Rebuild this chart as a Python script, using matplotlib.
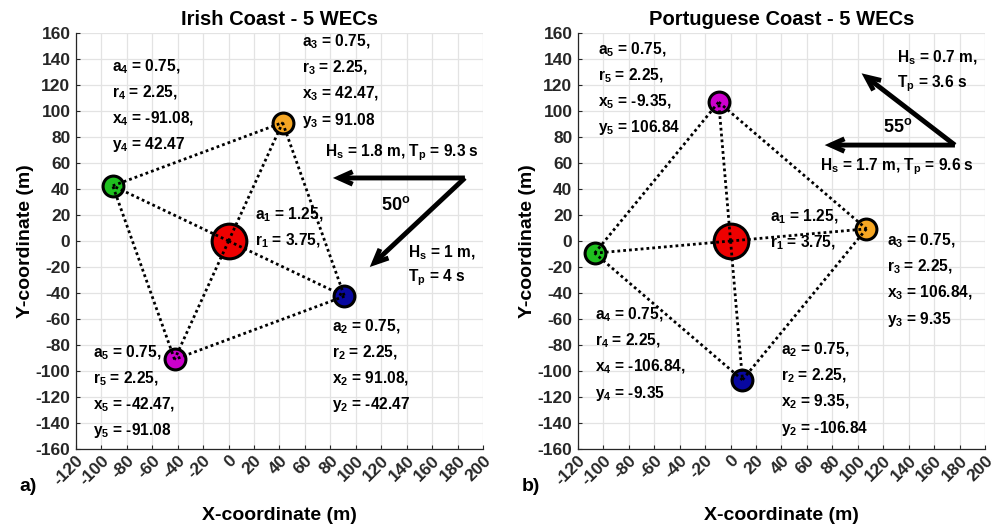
import matplotlib
matplotlib.use("Agg")
import matplotlib.pyplot as plt

plt.rcParams['font.family'] = ['Liberation Sans', 'DejaVu Sans']
plt.rcParams['font.weight'] = 'bold'
plt.rcParams['mathtext.fontset'] = 'custom'
plt.rcParams['mathtext.rm'] = 'Liberation Sans:bold'
plt.rcParams['mathtext.it'] = 'Liberation Sans:bold'
plt.rcParams['mathtext.bf'] = 'Liberation Sans:bold'

# ---------------- data ----------------
wec_ids = [1, 2, 3, 4, 5]
radius_a = [1.25, 0.75, 0.75, 0.75, 0.75]
radius_r = [3.75, 2.25, 2.25, 2.25, 2.25]
wec_colors = ['#ee0000', '#0808a0', '#f5a623', '#1fbf1f', '#cc00cc']

irish_x = [0.0, 91.08, 42.47, -91.08, -42.47]
irish_y = [0.0, -42.47, 91.08, 42.47, -91.08]
irish_ring = [4, 3, 2, 5]          # perimeter order (WEC ids)

port_x = [0.0, 9.35, 106.84, -106.84, -9.35]
port_y = [0.0, -106.84, 9.35, -9.35, 106.84]
port_ring = [5, 3, 2, 4]

irish_title = 'Irish Coast - 5 WECs'
port_title = 'Portuguese Coast - 5 WECs'

irish_wave1 = (1.8, 9.3)   # Hs, Tp
irish_wave2 = (1.0, 4.0)
irish_angle = 50
port_wave1 = (1.7, 9.6)
port_wave2 = (0.7, 3.6)
port_angle = 55

x_ticks = list(range(-120, 201, 20))
y_ticks = list(range(-160, 161, 20))

# ---------------- layout ----------------
fig = plt.figure(figsize=(9.97, 5.24), dpi=100)
ax_pos = [[0.0762, 0.1431, 0.4082, 0.7939], [0.5797, 0.1431, 0.4082, 0.7939]]

FS = 11.2
DOT = dict(color='k', lw=2.0, ls=(0, (1, 1.1)), zorder=4, solid_capstyle='butt')


def wec_block(i, xs, ys):
    n = wec_ids[i]
    lines = [r'$\mathregular{a_%d}$ = %.2f,' % (n, radius_a[i]),
             r'$\mathregular{r_%d}$ = %.2f,' % (n, radius_r[i])]
    if i > 0:
        lines += [r'$\mathregular{x_%d}$ = %.2f,' % (n, xs[i]),
                  r'$\mathregular{y_%d}$ = %.2f' % (n, ys[i])]
    return lines


def draw_panel(ax, xs, ys, ring, title, blocks, waves, arrows, angle_txt, letter):
    ax.set_xlim(-120, 200)
    ax.set_ylim(-160, 160)
    ax.set_xticks(x_ticks)
    ax.set_yticks(y_ticks)
    ax.set_xticklabels([str(t) for t in x_ticks], rotation=45, ha='right',
                       va='top', rotation_mode='anchor', fontsize=12.5, fontweight='bold')
    ax.set_yticklabels([str(t) for t in y_ticks], fontsize=12.5, fontweight='bold')
    ax.tick_params(direction='in', length=3, width=0.8, colors='#262626', pad=4)
    ax.tick_params(axis='x', pad=3)
    ax.grid(True, color='#e3e3e3', linewidth=0.9)
    ax.set_axisbelow(True)
    for s in ['top', 'right']:
        ax.spines[s].set_visible(False)
    for s in ['left', 'bottom']:
        ax.spines[s].set_color('#262626')
        ax.spines[s].set_linewidth(0.9)
    ax.set_title(title, fontsize=14.5, fontweight='bold', pad=6)
    ax.set_xlabel('X-coordinate (m)', fontsize=14, fontweight='bold', labelpad=13)
    ax.set_ylabel('Y-coordinate (m)', fontsize=14, fontweight='bold', labelpad=1)

    # markers
    for i in range(len(xs)):
        ax.plot(xs[i], ys[i], 'o', ms=radius_a[i] * 20, mfc=wec_colors[i],
                mec='k', mew=2.2, zorder=3)
    # connections: centre to each + perimeter
    idx = {n: k for k, n in enumerate(wec_ids)}
    for i in range(1, len(xs)):
        ax.plot([xs[0], xs[i]], [ys[0], ys[i]], **DOT)
    for a, b in zip(ring, ring[1:] + ring[:1]):
        ia, ib = idx[a], idx[b]
        ax.plot([xs[ia], xs[ib]], [ys[ia], ys[ib]], **DOT)

    # text blocks
    for (i, tx, ty) in blocks:
        for k, line in enumerate(wec_block(i, xs, ys)):
            ax.text(tx, ty - 20 * k, line, fontsize=FS, fontweight='bold',
                    ha='left', va='center', zorder=5)
    for (txt, tx, ty) in waves:
        ax.text(tx, ty, txt, fontsize=FS, fontweight='bold', ha='left', va='center', zorder=5)
    for (tail, tip) in arrows:
        ax.annotate('', xy=tip, xytext=tail,
                    arrowprops=dict(arrowstyle='->,head_length=1.0,head_width=0.45',
                                    lw=3.5, color='k', shrinkA=0, shrinkB=0,
                                    joinstyle='miter', capstyle='butt'))
    ax.text(angle_txt[1], angle_txt[2], angle_txt[0], fontsize=13, fontweight='bold',
            ha='left', va='center')
    ax.text(-0.138, -0.091, letter, transform=ax.transAxes, fontsize=14,
            fontweight='bold', ha='left', va='center')


ax1 = fig.add_axes(ax_pos[0])
draw_panel(
    ax1, irish_x, irish_y, irish_ring, irish_title,
    blocks=[(3, -92, 134), (2, 58, 153), (0, 21, 20), (1, 81, -66), (4, -107, -86)],
    waves=[(r'$\mathregular{H_s}$ = %.1f m, $\mathregular{T_p}$ = %.1f s' % irish_wave1, 76, 68),
           (r'$\mathregular{H_s}$ = %g m,' % irish_wave2[0], 141, -9),
           (r'$\mathregular{T_p}$ = %g s' % irish_wave2[1], 141, -28)],
    arrows=[((185.8, 48.5), (82, 48.5)), ((185.8, 48.5), (111, -20))],
    angle_txt=(r'%d$^\mathregular{o}$' % irish_angle, 120, 28),
    letter='a)')

ax2 = fig.add_axes(ax_pos[1])
draw_panel(
    ax2, port_x, port_y, port_ring, port_title,
    blocks=[(4, -104, 147), (0, 31, 19), (2, 123, 0), (3, -106.5, -57), (1, 40, -84)],
    waves=[(r'$\mathregular{H_s}$ = %.1f m,' % port_wave2[0], 131, 141),
           (r'$\mathregular{T_p}$ = %.1f s' % port_wave2[1], 131, 121),
           (r'$\mathregular{H_s}$ = %.1f m, $\mathregular{T_p}$ = %.1f s' % port_wave1, 70, 57)],
    arrows=[((176.4, 73.8), (74, 73.8)), ((176.4, 73.8), (103, 129))],
    angle_txt=(r'%d$^\mathregular{o}$' % port_angle, 120, 88),
    letter='b)')

fig.savefig('out.png', dpi=100)
